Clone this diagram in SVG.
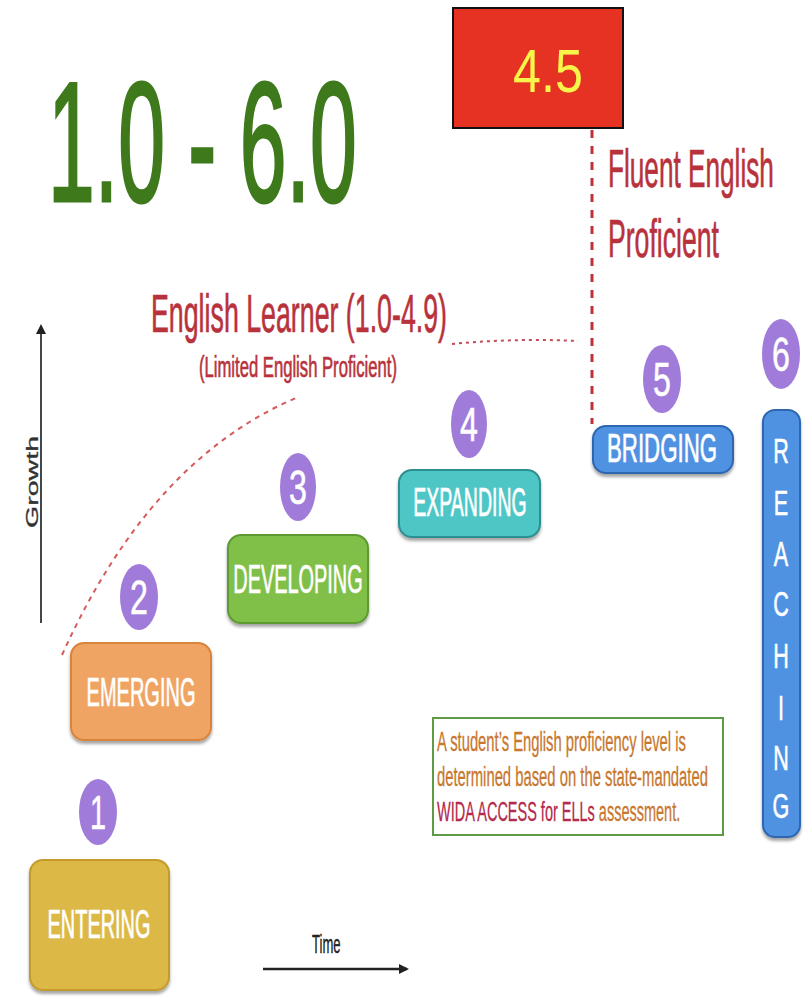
<svg xmlns="http://www.w3.org/2000/svg" width="808" height="999" viewBox="0 0 808 999">
<defs>
<filter id="sh" x="-10%" y="-10%" width="120%" height="130%"><feDropShadow dx="0" dy="3" stdDeviation="1.5" flood-color="#000" flood-opacity="0.35"/></filter>
<marker id="ah" markerWidth="10" markerHeight="10" refX="8" refY="5" orient="auto" markerUnits="userSpaceOnUse"><path d="M0,0 L10,5 L0,10 Z" fill="#222"/></marker>
<style>
text{font-family:"Liberation Sans",Arial,sans-serif}
.lbl{fill:#fff;font-size:40px;text-anchor:middle;stroke:#fff;stroke-width:0.7}
.num{fill:#fff;font-size:48px;text-anchor:middle;stroke:#fff;stroke-width:0.6}
.circ{fill:#a07bd9}
.red{fill:#b8323c;stroke:#b8323c;stroke-width:0.7}
.box{stroke-width:2;filter:url(#sh)}
.note{font-size:27px;fill:#c8772e;stroke:#c8772e;stroke-width:0.3}
.reach{fill:#fff;font-size:36px;text-anchor:middle;stroke:#fff;stroke-width:0.6}
</style>
</defs>
<rect width="808" height="999" fill="#fff"/>

<g id="title"><text transform="translate(48,201) scale(0.495,1)" font-size="170" fill="#3e7a1c" stroke="#3e7a1c" stroke-width="3">1.0 - 6.0</text></g>

<g id="score"><rect x="453" y="8" width="170" height="120" fill="#e53222" stroke="#111" stroke-width="2"/>
<text transform="translate(548,92) scale(0.81,1)" font-size="62" fill="#f7f44a" text-anchor="middle">4.5</text></g>

<g id="connectors">
<line x1="592" y1="130" x2="592" y2="424" stroke="#c0303a" stroke-width="3" stroke-dasharray="8 8"/>
<path d="M62 655 Q150 460 296 398" fill="none" stroke="#d65a5a" stroke-width="2" stroke-dasharray="5 5"/>
<path d="M452 344 Q515 338 578 341" fill="none" stroke="#c24b55" stroke-width="2" stroke-dasharray="3 4"/>
<line x1="41" y1="623" x2="41" y2="326" stroke="#333" stroke-width="1.8" marker-end="url(#ah)"/>
<line x1="263" y1="969" x2="407" y2="969" stroke="#222" stroke-width="2.5" marker-end="url(#ah)"/>
</g>

<g id="fluent"><text class="red" transform="translate(608,187) scale(0.485,1)" font-size="54">Fluent English</text>
<text class="red" transform="translate(608,257) scale(0.493,1)" font-size="54">Proficient</text></g>

<g id="learner"><text class="red" transform="translate(151,332) scale(0.4956,1)" font-size="54">English Learner (1.0-4.9)</text>
<text class="red" transform="translate(199,377) scale(0.555,1)" font-size="30" stroke-width="0.4">(Limited English Proficient)</text></g>

<g id="growth"><text transform="translate(38,482) rotate(-90) scale(1.68,1)" font-size="17" fill="#333" stroke="#333" stroke-width="0.3" text-anchor="middle">Growth</text></g>
<g id="time"><text transform="translate(312,953) scale(0.502,1)" font-size="26" fill="#222" stroke="#222" stroke-width="0.4">Time</text></g>

<g id="level1"><ellipse class="circ" cx="98" cy="812" rx="19" ry="33"/><text class="num" transform="translate(98,829) scale(0.6,1)">1</text>
<rect class="box" x="30" y="860" width="139" height="130" rx="13" fill="#dcb947" stroke="#c49a2c"/>
<text class="lbl" transform="translate(99,938) scale(0.498,1)">ENTERING</text></g>

<g id="level2"><ellipse class="circ" cx="139" cy="597" rx="19" ry="33"/><text class="num" transform="translate(139,614) scale(0.67,1)">2</text>
<rect class="box" x="71" y="643" width="140" height="97" rx="13" fill="#f0a463" stroke="#d9843e"/>
<text class="lbl" transform="translate(141,706) scale(0.5,1)">EMERGING</text></g>

<g id="level3"><ellipse class="circ" cx="298" cy="487" rx="18" ry="34"/><text class="num" transform="translate(298,504) scale(0.67,1)">3</text>
<rect class="box" x="228" y="535" width="140" height="88" rx="13" fill="#80c04a" stroke="#5d9a30"/>
<text class="lbl" transform="translate(298,593) scale(0.4975,1)">DEVELOPING</text></g>

<g id="level4"><ellipse class="circ" cx="469" cy="424" rx="18" ry="34"/><text class="num" transform="translate(469,441) scale(0.67,1)">4</text>
<rect class="box" x="399" y="470" width="141" height="67" rx="13" fill="#4fc6c6" stroke="#2f8f90"/>
<text class="lbl" transform="translate(470,516) scale(0.488,1)">EXPANDING</text></g>

<g id="level5"><ellipse class="circ" cx="662" cy="379" rx="19" ry="34"/><text class="num" transform="translate(662,396) scale(0.67,1)">5</text>
<rect class="box" x="593" y="426" width="140" height="47" rx="13" fill="#4f92e2" stroke="#2d66b0"/>
<text class="lbl" transform="translate(662,462) scale(0.556,1)" font-size="36">BRIDGING</text></g>

<g id="level6"><ellipse class="circ" cx="781" cy="354" rx="19" ry="35"/><text class="num" transform="translate(781,371) scale(0.67,1)">6</text>
<rect class="box" x="763" y="410" width="37" height="427" rx="12" fill="#4f92e2" stroke="#2d66b0"/>
<text class="reach" transform="translate(781,463) scale(0.6,1)">R</text>
<text class="reach" transform="translate(781,515) scale(0.6,1)">E</text>
<text class="reach" transform="translate(781,566) scale(0.6,1)">A</text>
<text class="reach" transform="translate(781,616) scale(0.6,1)">C</text>
<text class="reach" transform="translate(781,668) scale(0.6,1)">H</text>
<text class="reach" transform="translate(781,720) scale(0.6,1)">I</text>
<text class="reach" transform="translate(781,770) scale(0.6,1)">N</text>
<text class="reach" transform="translate(781,818) scale(0.6,1)">G</text></g>

<g id="note"><rect x="433" y="718" width="290" height="117" fill="#fff" stroke="#5f9a45" stroke-width="2"/>
<text class="note" transform="translate(437,751) scale(0.548,1)">A student’s English proficiency level is</text>
<text class="note" transform="translate(437,786) scale(0.549,1)">determined based on the state-mandated</text>
<text class="note" transform="translate(437,821) scale(0.537,1)"><tspan fill="#b42a4c" stroke="#b42a4c">WIDA ACCESS for ELLs</tspan> assessment.</text></g>
</svg>
